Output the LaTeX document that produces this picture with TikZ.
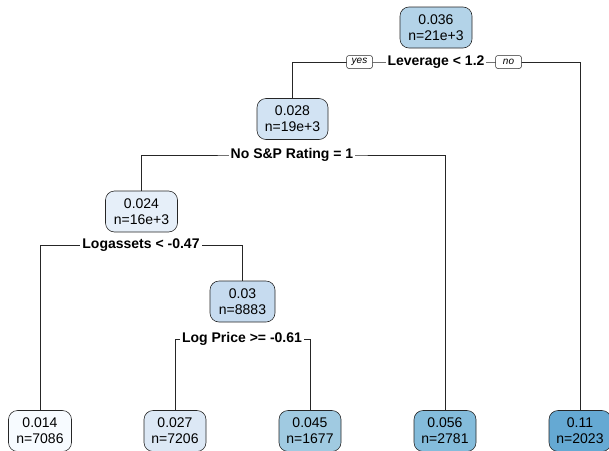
\documentclass[tikz,border=0pt]{standalone}
\usepackage{fontspec}
\setmainfont{Liberation Sans}
\definecolor{c014}{HTML}{F7FBFF}
\definecolor{c024}{HTML}{E6EFF9}
\definecolor{c027}{HTML}{DCE8F5}
\definecolor{c028}{HTML}{D2E3F3}
\definecolor{c030}{HTML}{C6DBEF}
\definecolor{c036}{HTML}{B3D3E8}
\definecolor{c045}{HTML}{A0CAE1}
\definecolor{c056}{HTML}{84BCDB}
\definecolor{c110}{HTML}{65A9D3}
\begin{document}
\begin{tikzpicture}[x=1pt,y=-1pt]
\tikzset{
  tnode/.style={draw=black!85, line width=0.6pt, rounded corners=9pt, align=center,
    font=\fontsize{14}{16}\selectfont, inner sep=0pt, minimum height=41pt},
  splitlab/.style={fill=white, font=\bfseries\fontsize{14}{16}\selectfont, inner sep=2pt},
  yn/.style={draw=black!85, line width=0.5pt, fill=white, rounded corners=2.5pt,
    font=\itshape\fontsize{10}{12}\selectfont, inner sep=0pt, minimum width=26pt, minimum height=13pt},
  conn/.style={draw=black!85, line width=0.6pt}
}
\useasboundingbox (0,0) rectangle (609,450);
% nodes
\node[tnode, fill=c036, minimum width=72pt] (root) at (436,27.5) {0.036\\n=21e+3};
\node[tnode, fill=c028, minimum width=71pt] (n2) at (292.5,119) {0.028\\n=19e+3};
\node[tnode, fill=c024, minimum width=72pt] (n4) at (141.5,211.5) {0.024\\n=16e+3};
\node[tnode, fill=c030, minimum width=65pt] (n9) at (242.5,301.5) {0.03\\n=8883};
\node[tnode, fill=c014, minimum width=63pt] (l1) at (40,431) {0.014\\n=7086};
\node[tnode, fill=c027, minimum width=62pt] (l2) at (175,431) {0.027\\n=7206};
\node[tnode, fill=c045, minimum width=62pt] (l3) at (310,431) {0.045\\n=1677};
\node[tnode, fill=c056, minimum width=62pt] (l4) at (445,431) {0.056\\n=2781};
\node[tnode, fill=c110, minimum width=62pt] (l5) at (580,431) {0.11\\n=2023};
% split coordinates
\coordinate (s1) at (436,62);
\coordinate (s2) at (292,155);
\coordinate (s3) at (141,245);
\coordinate (s4) at (242,339);
% connectors
\draw[conn] (n2.north) |- (s1) -| (l5.north);
\draw[conn] (n4.north) |- (s2) -| (l4.north);
\draw[conn] (l1.north) |- (s3) -| (n9.north);
\draw[conn] (l2.north) |- (s4) -| (l3.north);
% split labels
\node[splitlab] (t1) at (436,62) {Leverage < 1.2};
\node[yn] (yes) at (359.5,62) {yes};
\node[yn] (no) at (508.5,62) {no};
\node[splitlab] (t2) at (292,155) {No S\&P Rating = 1};
\node[splitlab] (t3) at (141,245) {Logassets < -0.47};
\node[splitlab] (t4) at (242,339) {Log Price >= -0.61};
\end{tikzpicture}
\end{document}
